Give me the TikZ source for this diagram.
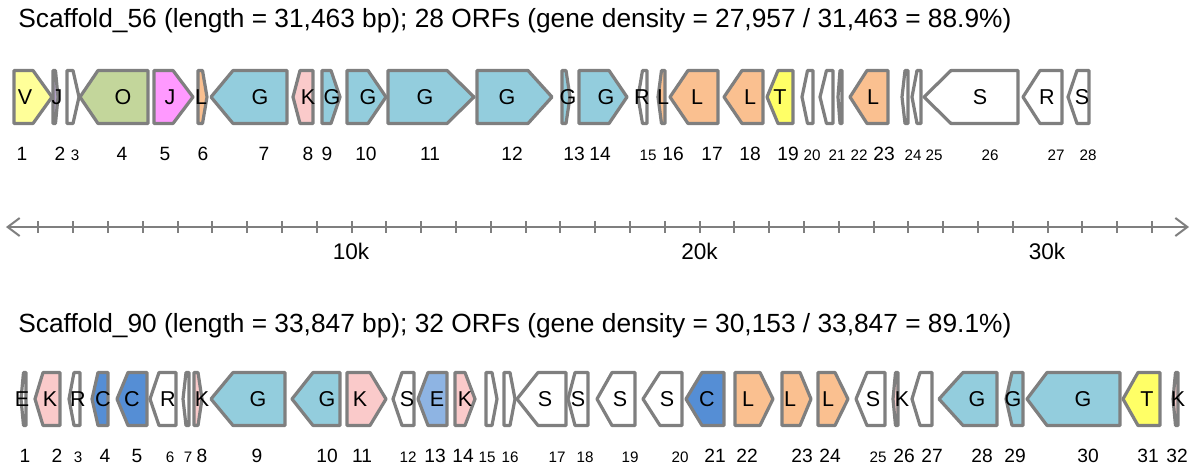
\documentclass[tikz,border=0pt]{standalone}
\usepackage{fontspec}
\setmainfont{Liberation Sans}
\usetikzlibrary{arrows.meta}
\definecolor{edge}{HTML}{7F7F7F}
\definecolor{gV}{HTML}{FFFF99}
\definecolor{gP}{HTML}{B3A2C7}
\definecolor{gO}{HTML}{C3D69B}
\definecolor{gJ}{HTML}{FF99FF}
\definecolor{gL}{HTML}{FAC090}
\definecolor{gG}{HTML}{93CDDD}
\definecolor{gK}{HTML}{FACACA}
\definecolor{gT}{HTML}{FFFF66}
\definecolor{gC}{HTML}{558ED5}
\definecolor{gE}{HTML}{8EB4E3}
\definecolor{gW}{HTML}{FFFFFF}
\newcommand\genefwd[4]{\filldraw[genebox,fill=#4] (#1,\rowy-26.5) -- (#2-#3,\rowy-26.5) -- (#2,\rowy) -- (#2-#3,\rowy+26.5) -- (#1,\rowy+26.5) -- cycle;}
\newcommand\genebwd[4]{\filldraw[genebox,fill=#4] (#1,\rowy) -- (#1+#3,\rowy-26.5) -- (#2,\rowy-26.5) -- (#2,\rowy+26.5) -- (#1+#3,\rowy+26.5) -- cycle;}
\tikzset{
  genebox/.style={draw=edge,line width=1.6pt,line join=round},
  glab/.style={inner sep=0pt,font=\fontsize{10.75}{12}\selectfont},
  numL/.style={inner sep=0pt,font=\fontsize{9.6}{11}\selectfont},
  numS/.style={inner sep=0pt,font=\fontsize{7.6}{9}\selectfont},
  title/.style={inner sep=0pt,anchor=west,font=\fontsize{13.15}{15}\selectfont},
  axis/.style={draw=edge,line width=1pt},
  axlab/.style={inner sep=0pt,font=\fontsize{11.3}{13}\selectfont}
}
\begin{document}
\begin{tikzpicture}[x=0.5pt,y=-0.5pt]
\useasboundingbox (0,0) rectangle (1200,471);
% ---------- Scaffold 56 ----------
\node[title] (t1) at (18,21) {Scaffold\_56 (length = 31,463 bp); 28 ORFs (gene density = 27,957 / 31,463 = 88.9\%)};
\def\rowy{97}
\genefwd{14}{52}{19}{gV}
\genefwd{53}{58}{2.5}{gP}
\genefwd{67}{79}{6}{gW}
\genebwd{80}{148}{18}{gO}
\genefwd{154}{193}{20}{gJ}
\genefwd{198}{207}{4.5}{gL}
\genebwd{211}{287}{22}{gG}
\genebwd{293}{313}{7}{gK}
\genefwd{322}{340}{9}{gG}
\genefwd{347}{386}{18}{gG}
\genefwd{388}{474}{27}{gG}
\genefwd{477}{552}{24}{gG}
\genefwd{562}{570}{4}{gG}
\genefwd{579}{627}{18}{gG}
\genebwd{638}{647}{4.5}{gW}
\genebwd{658}{665}{3.5}{gL}
\genebwd{670}{718}{18}{gL}
\genebwd{724}{763}{18}{gL}
\genebwd{767}{793}{11}{gT}
\genebwd{802}{813}{5.5}{gW}
\genebwd{820}{833}{6.5}{gW}
\genebwd{838}{842}{2}{gW}
\genebwd{850}{888}{17}{gL}
\genebwd{902}{908}{3}{gW}
\genebwd{912}{921}{5}{gW}
\genebwd{924}{1018}{27}{gW}
\genebwd{1023}{1062}{17}{gW}
\genebwd{1068}{1089}{9}{gW}
% labels
\node[glab] (a1) at (25,97) {V};
\node[glab] (a2) at (57,97) {J};
\node[glab] (a4) at (123,97) {O};
\node[glab] (a5) at (170,97) {J};
\node[glab] (a6) at (201,97) {L};
\node[glab] (a7) at (260,97) {G};
\node[glab] (a8) at (308,97) {K};
\node[glab] (a9) at (332,97) {G};
\node[glab] (a10) at (368,97) {G};
\node[glab] (a11) at (425,97) {G};
\node[glab] (a12) at (507,97) {G};
\node[glab] (a13) at (568,97) {G};
\node[glab] (a14) at (606,97) {G};
\node[glab] (a15) at (642,97) {R};
\node[glab] (a16) at (663,97) {L};
\node[glab] (a17) at (697,97) {L};
\node[glab] (a18) at (750,97) {L};
\node[glab] (a19) at (780,97) {T};
\node[glab] (a23) at (873,97) {L};
\node[glab] (a26) at (980,97) {S};
\node[glab] (a27) at (1047,97) {R};
\node[glab] (a28) at (1082,97) {S};
% numbers
\node[numL] (na1) at (22,154) {1};
\node[numL] (na2) at (60,154) {2};
\node[numS] (na3) at (75,155) {3};
\node[numL] (na4) at (122,154) {4};
\node[numL] (na5) at (165,154) {5};
\node[numL] (na6) at (203,154) {6};
\node[numL] (na7) at (264,154) {7};
\node[numL] (na8) at (308,154) {8};
\node[numL] (na9) at (327,154) {9};
\node[numL] (na10) at (366,154) {10};
\node[numL] (na11) at (430,154) {11};
\node[numL] (na12) at (512,154) {12};
\node[numL] (na13) at (574,154) {13};
\node[numL] (na14) at (600,154) {14};
\node[numS] (na15) at (648,155) {15};
\node[numL] (na16) at (673,154) {16};
\node[numL] (na17) at (712,154) {17};
\node[numL] (na18) at (750,154) {18};
\node[numL] (na19) at (788,154) {19};
\node[numS] (na20) at (812,155) {20};
\node[numS] (na21) at (837,155) {21};
\node[numS] (na22) at (859,155) {22};
\node[numL] (na23) at (884,154) {23};
\node[numS] (na24) at (913,155) {24};
\node[numS] (na25) at (934,155) {25};
\node[numS] (na26) at (990,155) {26};
\node[numS] (na27) at (1056,155) {27};
\node[numS] (na28) at (1088,155) {28};
% ---------- axis ----------
\coordinate (axL) at (6,227);
\coordinate (axR) at (1189,227);
\draw[axis,{Straight Barb[length=6pt,width=9pt]}-{Straight Barb[length=6pt,width=9pt]}] (axL) -- (axR);
\foreach \k in {1,...,33} {\draw[axis] (3.5+34.8*\k,221) -- (3.5+34.8*\k,233);}
\node[axlab] (k10) at (351,251) {10k};
\node[axlab] (k20) at (699.5,251) {20k};
\node[axlab] (k30) at (1047,251) {30k};
% ---------- Scaffold 90 ----------
\node[title] (t2) at (18,326) {Scaffold\_90 (length = 33,847 bp); 32 ORFs (gene density = 30,153 / 33,847 = 89.1\%)};
\def\rowy{399}
\genebwd{21}{26}{2.5}{gW}
\genebwd{35}{60}{8}{gK}
\genebwd{69}{80}{5}{gW}
\genebwd{92}{108}{6}{gC}
\genebwd{117}{147}{11}{gC}
\genebwd{150}{176}{9}{gW}
\genebwd{183}{189}{3}{gW}
\genefwd{194}{202}{4}{gK}
\genebwd{211}{285}{22}{gG}
\genebwd{292}{340}{21}{gG}
\genefwd{347}{386}{16}{gK}
\genebwd{393}{414}{9}{gW}
\genebwd{418}{447}{10}{gE}
\genefwd{455}{475}{10}{gK}
\genefwd{486}{497}{5}{gW}
\genefwd{504}{515}{5}{gW}
\genebwd{517}{566}{21}{gW}
\genebwd{568}{588}{7}{gW}
\genebwd{597}{635}{15}{gW}
\genebwd{643}{682}{17}{gW}
\genebwd{686}{724}{16}{gC}
\genefwd{735}{773}{13}{gL}
\genefwd{782}{811}{11}{gL}
\genefwd{818}{848}{13}{gL}
\genebwd{856}{885}{11}{gW}
\genebwd{893}{898}{2.5}{gK}
\genebwd{912}{932}{8}{gW}
\genebwd{939}{997}{24}{gG}
\genebwd{1006}{1023}{6}{gG}
\genebwd{1027}{1120}{20}{gG}
\genebwd{1123}{1160}{15}{gT}
\genebwd{1173}{1178}{2.5}{gK}
% labels
\node[glab] (b1) at (22,399) {E};
\node[glab] (b2) at (50,399) {K};
\node[glab] (b3) at (78,399) {R};
\node[glab] (b4) at (103,399) {C};
\node[glab] (b5) at (132,399) {C};
\node[glab] (b6) at (168,399) {R};
\node[glab] (b8) at (202,399) {K};
\node[glab] (b9) at (258,399) {G};
\node[glab] (b10) at (327,399) {G};
\node[glab] (b11) at (360,399) {K};
\node[glab] (b12) at (407,399) {S};
\node[glab] (b13) at (437,399) {E};
\node[glab] (b14) at (465,399) {K};
\node[glab] (b17) at (545,399) {S};
\node[glab] (b18) at (578,399) {S};
\node[glab] (b19) at (620,399) {S};
\node[glab] (b20) at (667,399) {S};
\node[glab] (b21) at (707,399) {C};
\node[glab] (b22) at (748,399) {L};
\node[glab] (b23) at (790,399) {L};
\node[glab] (b24) at (828,399) {L};
\node[glab] (b25) at (873,399) {S};
\node[glab] (b26) at (902,399) {K};
\node[glab] (b28) at (977,399) {G};
\node[glab] (b29) at (1013,399) {G};
\node[glab] (b30) at (1083,399) {G};
\node[glab] (b31) at (1147,399) {T};
\node[glab] (b32) at (1178,399) {K};
% numbers
\node[numL] (nb1) at (25,456) {1};
\node[numL] (nb2) at (57,456) {2};
\node[numS] (nb3) at (78,457) {3};
\node[numL] (nb4) at (105,456) {4};
\node[numL] (nb5) at (137,456) {5};
\node[numS] (nb6) at (170,457) {6};
\node[numS] (nb7) at (188,457) {7};
\node[numL] (nb8) at (202,456) {8};
\node[numL] (nb9) at (257,456) {9};
\node[numL] (nb10) at (327,456) {10};
\node[numL] (nb11) at (362,456) {11};
\node[numS] (nb12) at (408,457) {12};
\node[numL] (nb13) at (435,456) {13};
\node[numL] (nb14) at (463,456) {14};
\node[numS] (nb15) at (487,457) {15};
\node[numS] (nb16) at (510,457) {16};
\node[numS] (nb17) at (557,457) {17};
\node[numS] (nb18) at (585,457) {18};
\node[numS] (nb19) at (630,457) {19};
\node[numS] (nb20) at (680,457) {20};
\node[numL] (nb21) at (715,456) {21};
\node[numL] (nb22) at (747,456) {22};
\node[numL] (nb23) at (802,456) {23};
\node[numL] (nb24) at (830,456) {24};
\node[numS] (nb25) at (878,457) {25};
\node[numL] (nb26) at (904,456) {26};
\node[numL] (nb27) at (932,456) {27};
\node[numL] (nb28) at (982,456) {28};
\node[numL] (nb29) at (1015,456) {29};
\node[numL] (nb30) at (1088,456) {30};
\node[numL] (nb31) at (1148,456) {31};
\node[numL] (nb32) at (1177,456) {32};
\end{tikzpicture}
\end{document}
